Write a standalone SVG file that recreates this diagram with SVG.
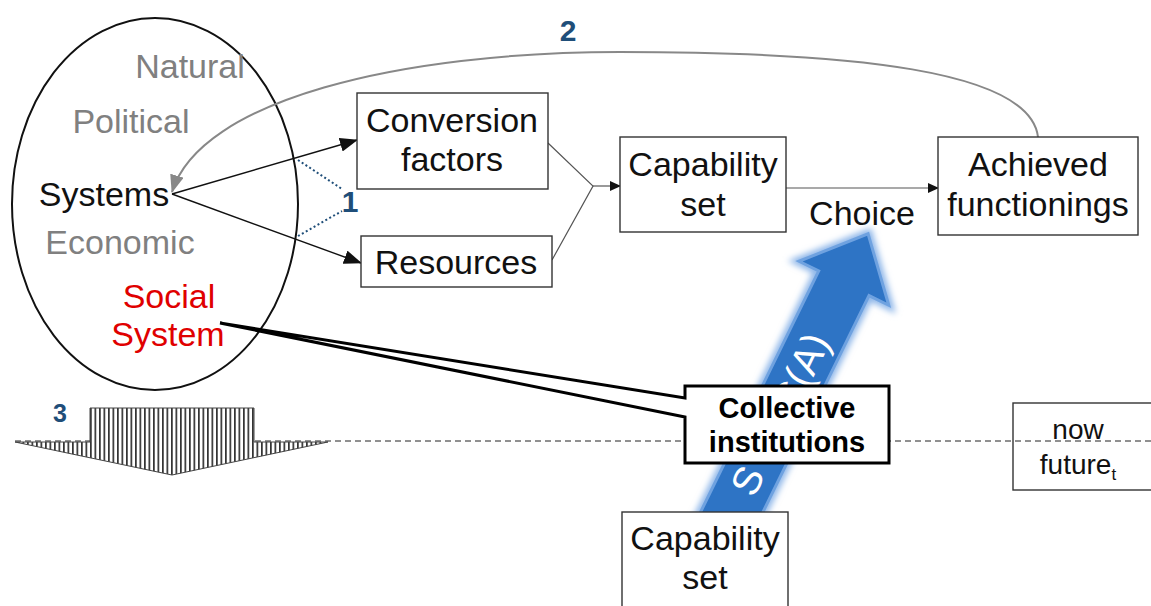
<svg xmlns="http://www.w3.org/2000/svg" width="1151" height="606" viewBox="0 0 1151 606">
<style>
text{font-family:"Liberation Sans",Arial,sans-serif}
.box{fill:#fff;stroke:#333;stroke-width:1.4}
.lbl{font-size:34px;fill:#111;text-anchor:middle}
.grey{font-size:34px;fill:#808080;text-anchor:middle}
.red{font-size:34px;fill:#e00000;text-anchor:middle}
.num{font-weight:bold;fill:#1f4e79;text-anchor:middle}
.ln{fill:none;stroke:#111;stroke-width:1.4}
.thin{fill:none;stroke:#555;stroke-width:1.2}
.dot{fill:none;stroke:#1f4e79;stroke-width:2;stroke-dasharray:2,2.5}
</style>
<defs>
<marker id="ah" markerUnits="userSpaceOnUse" markerWidth="18" markerHeight="14" refX="17" refY="7" orient="auto"><path d="M0,0 L18,7 L0,14 Z" fill="#111"/></marker>
<marker id="ahs" markerUnits="userSpaceOnUse" markerWidth="11" markerHeight="10" refX="10" refY="5" orient="auto"><path d="M0,0 L11,5 L0,10 Z" fill="#111"/></marker>
<marker id="ahg" markerUnits="userSpaceOnUse" markerWidth="18" markerHeight="14" refX="17" refY="7" orient="auto"><path d="M0,0 L18,7 L0,14 Z" fill="#888"/></marker>
<pattern id="stripes" patternUnits="userSpaceOnUse" width="4.5" height="10"><rect width="4.5" height="10" fill="#fff"/><rect width="1.7" height="10" fill="#333"/></pattern>
<filter id="glow" x="-20%" y="-20%" width="140%" height="140%"><feGaussianBlur stdDeviation="3"/></filter>
</defs>

<!-- timeline dashed line -->
<line x1="15" y1="441" x2="1151" y2="441" stroke="#222" stroke-width="1.2" stroke-dasharray="6,4"/>

<g id="systems">
<ellipse cx="155" cy="204" rx="143" ry="186" fill="none" stroke="#111" stroke-width="2"/>
<text class="grey" x="190" y="78">Natural</text>
<text class="grey" x="131" y="133">Political</text>
<text class="lbl" x="104" y="206">Systems</text>
<text class="grey" x="120" y="254">Economic</text>
<text class="red" x="169" y="308">Social</text>
<text class="red" x="168" y="346">System</text>
</g>

<g id="sca-arrow">
<g transform="translate(722,532) rotate(-63.9)">
<path d="M0,-28 H277 V-50 L332,0 L277,50 V28 H0 Z" fill="none" stroke="#8ab4e8" stroke-width="9" filter="url(#glow)"/>
<path d="M0,-28 H277 V-50 L332,0 L277,50 V28 H0 Z" fill="#2e74c5" stroke="#6fa2e0" stroke-width="3"/>
<text x="44" y="14" font-size="40" fill="#fff">S<tspan dx="66">C(A)</tspan></text>
</g>
</g>

<g id="connectors">
<path class="ln" d="M172,194 L357,140" marker-end="url(#ah)"/>
<path class="ln" d="M172,194 L361,263" marker-end="url(#ah)"/>
<path class="dot" d="M298,160 L342,189"/>
<path class="dot" d="M298,236 L342,211"/>
<path class="thin" d="M548,143 L593,186 L552,260"/>
<path class="thin" d="M593,186 L620,186" marker-end="url(#ahs)"/>
<path class="thin" d="M786,188 L938,188" marker-end="url(#ahs)"/>
<path d="M1038,137 C1030,70 850,52 620,52 C400,52 200,100 172,192" fill="none" stroke="#888" stroke-width="2" marker-end="url(#ahg)"/>
</g>

<text class="num" x="568" y="41" font-size="30">2</text>
<text class="num" x="350" y="212" font-size="30">1</text>
<text class="num" x="60" y="422" font-size="25">3</text>

<g id="conversion-factors">
<rect class="box" x="357" y="93" width="191" height="96"/>
<text class="lbl" x="452" y="132">Conversion</text>
<text class="lbl" x="452" y="171">factors</text>
</g>

<g id="resources">
<rect class="box" x="361" y="236" width="191" height="51"/>
<text class="lbl" x="456" y="274">Resources</text>
</g>

<g id="capability-set">
<rect class="box" x="620" y="137" width="166" height="95"/>
<text class="lbl" x="703" y="176">Capability</text>
<text class="lbl" x="703" y="216">set</text>
</g>

<g id="achieved-functionings">
<rect class="box" x="938" y="137" width="200" height="98"/>
<text class="lbl" x="1038" y="176">Achieved</text>
<text class="lbl" x="1038" y="216">functionings</text>
</g>

<g id="choice">
<text class="lbl" x="862" y="225">Choice</text>
</g>

<g id="future-arrow">
<path d="M90,408 H254 V442 H328 L172,475 L15,442 H90 Z" fill="url(#stripes)" stroke="#444" stroke-width="1"/>
</g>

<g id="collective-institutions">
<path d="M685,386 H889 V463 H685 V417 L220,323 L685,398 Z" fill="#fff" stroke="#000" stroke-width="3" stroke-linejoin="miter"/>
<text x="787" y="418" font-size="29" font-weight="bold" text-anchor="middle" fill="#000">Collective</text>
<text x="787" y="452" font-size="29" font-weight="bold" text-anchor="middle" fill="#000">institutions</text>
</g>

<g id="now-future">
<rect x="1013" y="403" width="150" height="87" fill="none" stroke="#333" stroke-width="1.4"/>
<text x="1078" y="439" font-size="28" text-anchor="middle" fill="#111">now</text>
<text x="1078" y="474" font-size="28" text-anchor="middle" fill="#111">future<tspan font-size="17" dy="6">t</tspan></text>
</g>

<g id="capability-set-future">
<rect class="box" x="622" y="512" width="166" height="110"/>
<text class="lbl" x="705" y="550">Capability</text>
<text class="lbl" x="705" y="589">set</text>
</g>
</svg>
